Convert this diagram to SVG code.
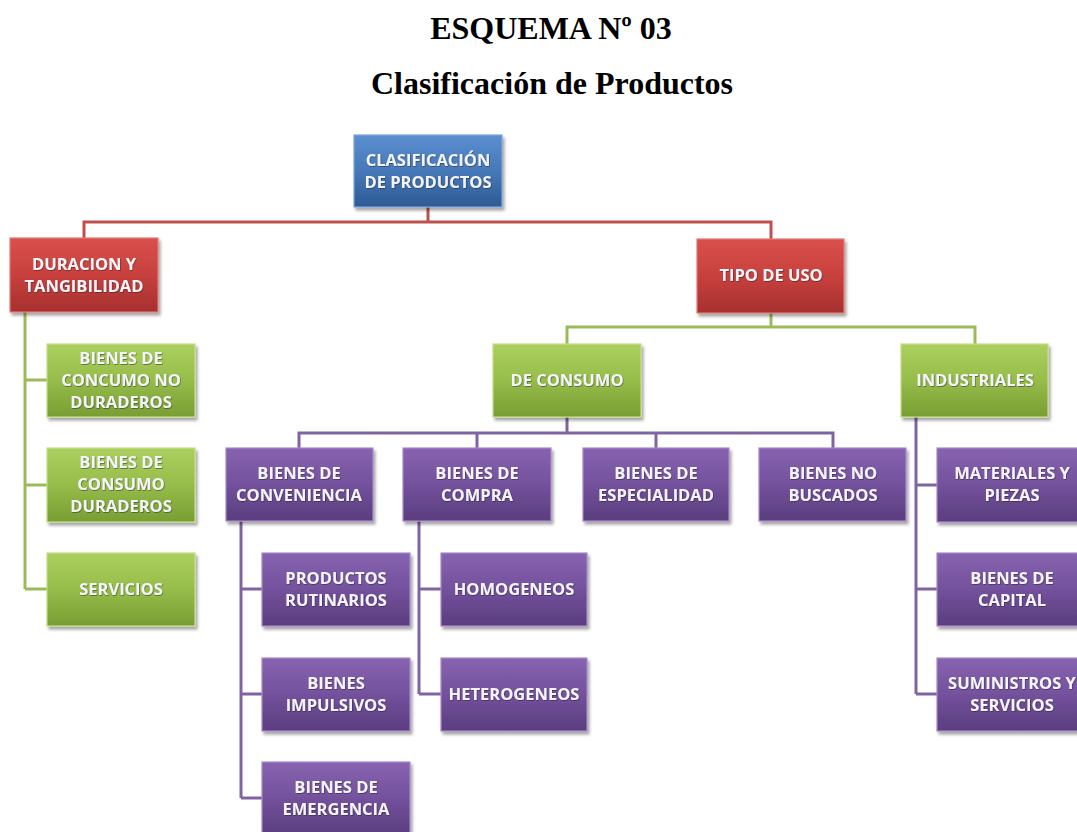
<svg xmlns="http://www.w3.org/2000/svg" width="1077" height="832" viewBox="0 0 1077 832">
  <defs>
    <linearGradient id="gBlue" x1="0" y1="0" x2="0" y2="1">
      <stop offset="0" stop-color="#5b8fd0"/>
      <stop offset="0.5" stop-color="#4678b8"/>
      <stop offset="1" stop-color="#2d5b94"/>
    </linearGradient>
    <linearGradient id="gRed" x1="0" y1="0" x2="0" y2="1">
      <stop offset="0" stop-color="#d9504c"/>
      <stop offset="0.5" stop-color="#c8403d"/>
      <stop offset="1" stop-color="#a6302e"/>
    </linearGradient>
    <linearGradient id="gGreen" x1="0" y1="0" x2="0" y2="1">
      <stop offset="0" stop-color="#acd05e"/>
      <stop offset="0.5" stop-color="#96bc4a"/>
      <stop offset="1" stop-color="#789d33"/>
    </linearGradient>
    <linearGradient id="gPurple" x1="0" y1="0" x2="0" y2="1">
      <stop offset="0" stop-color="#8763b0"/>
      <stop offset="0.5" stop-color="#73519c"/>
      <stop offset="1" stop-color="#5a3d7e"/>
    </linearGradient>
    <filter id="shadow" x="-10%" y="-10%" width="125%" height="130%">
      <feDropShadow dx="2" dy="3" stdDeviation="1.5" flood-color="#000" flood-opacity="0.35"/>
    </filter>
    <filter id="txtShadow" x="-5%" y="-20%" width="110%" height="140%">
      <feDropShadow dx="0.6" dy="0.8" stdDeviation="0.5" flood-color="#1a1a2e" flood-opacity="0.6"/>
    </filter>
  </defs>
  <style>
    .title { font-family: "Liberation Serif", "Times New Roman", serif; font-weight: bold; font-size: 32px; fill: #000; text-anchor: middle; }
    .box { stroke-width: 1.2; filter: url(#shadow); }
    .blue { fill: url(#gBlue); stroke: #7ea6d8; }
    .red { fill: url(#gRed); stroke: #e37a77; }
    .green { fill: url(#gGreen); stroke: #c3de88; }
    .purple { fill: url(#gPurple); stroke: #a68bc8; }
    .lbl { font-family: "Open Sans", "Liberation Sans", sans-serif; font-weight: bold; font-size: 16.5px; fill: #f4f4f8; text-anchor: middle; filter: url(#txtShadow); }
    .conn { fill: none; stroke-width: 3; }
    .cRed { stroke: #c0504d; }
    .cGreen { stroke: #9bbb59; }
    .cPurple { stroke: #8064a2; }
  </style>
  <rect width="1077" height="832" fill="#ffffff"/>

  <text class="title" x="551" y="39">ESQUEMA Nº 03</text>
  <text class="title" x="552" y="94">Clasificación de Productos</text>

  <!-- connectors -->
  <g id="connectors">
    <path class="conn cRed" d="M428,207 V222 M84,240 V222 H771 V239"/>
    <path class="conn cGreen" d="M771,313 V327 M567,344 V327 H975 V344"/>
    <path class="conn cGreen" d="M25,312 V589 M25,380 H47 M25,485 H47 M25,589 H47"/>
    <path class="conn cPurple" d="M567,417 V433 M299,448 V433 H833 V448 M477,433 V448 M656,433 V448"/>
    <path class="conn cPurple" d="M241,521 V798 M241,589 H262 M241,694 H262 M241,798 H262"/>
    <path class="conn cPurple" d="M419,521 V694 M419,589 H441 M419,694 H441"/>
    <path class="conn cPurple" d="M916,417 V694 M916,485 H937 M916,589 H937 M916,694 H937"/>
  </g>

  <!-- root -->
  <g id="clasificacion">
    <rect class="box blue" x="354" y="135" width="148" height="72"/>
    <text class="lbl" x="428" y="166">CLASIFICACIÓN</text>
    <text class="lbl" x="428" y="188">DE PRODUCTOS</text>
  </g>

  <!-- first level -->
  <g id="duracion">
    <rect class="box red" x="10" y="238" width="148" height="74"/>
    <text class="lbl" x="84" y="270">DURACION Y</text>
    <text class="lbl" x="84" y="292">TANGIBILIDAD</text>
  </g>
  <g id="tipo-uso">
    <rect class="box red" x="697" y="239" width="147" height="74"/>
    <text class="lbl" x="771" y="281">TIPO DE USO</text>
  </g>

  <!-- duracion y tangibilidad -->
  <g id="no-duraderos">
    <rect class="box green" x="47" y="344" width="148" height="73"/>
    <text class="lbl" x="121" y="364">BIENES DE</text>
    <text class="lbl" x="121" y="386">CONCUMO NO</text>
    <text class="lbl" x="121" y="408">DURADEROS</text>
  </g>
  <g id="duraderos">
    <rect class="box green" x="47" y="448" width="148" height="74"/>
    <text class="lbl" x="121" y="468">BIENES DE</text>
    <text class="lbl" x="121" y="490">CONSUMO</text>
    <text class="lbl" x="121" y="512">DURADEROS</text>
  </g>
  <g id="servicios">
    <rect class="box green" x="47" y="553" width="148" height="73"/>
    <text class="lbl" x="121" y="595">SERVICIOS</text>
  </g>

  <!-- tipo de uso -->
  <g id="de-consumo">
    <rect class="box green" x="493" y="344" width="148" height="73"/>
    <text class="lbl" x="567" y="386">DE CONSUMO</text>
  </g>
  <g id="industriales">
    <rect class="box green" x="901" y="344" width="147" height="73"/>
    <text class="lbl" x="975" y="386">INDUSTRIALES</text>
  </g>

  <!-- de consumo -->
  <g id="conveniencia">
    <rect class="box purple" x="226" y="448" width="147" height="73"/>
    <text class="lbl" x="299" y="479">BIENES DE</text>
    <text class="lbl" x="299" y="501">CONVENIENCIA</text>
  </g>
  <g id="compra">
    <rect class="box purple" x="403" y="448" width="148" height="73"/>
    <text class="lbl" x="477" y="479">BIENES DE</text>
    <text class="lbl" x="477" y="501">COMPRA</text>
  </g>
  <g id="especialidad">
    <rect class="box purple" x="583" y="448" width="146" height="73"/>
    <text class="lbl" x="656" y="479">BIENES DE</text>
    <text class="lbl" x="656" y="501">ESPECIALIDAD</text>
  </g>
  <g id="no-buscados">
    <rect class="box purple" x="759" y="448" width="147" height="73"/>
    <text class="lbl" x="833" y="479">BIENES NO</text>
    <text class="lbl" x="833" y="501">BUSCADOS</text>
  </g>

  <!-- conveniencia -->
  <g id="rutinarios">
    <rect class="box purple" x="262" y="553" width="148" height="73"/>
    <text class="lbl" x="336" y="584">PRODUCTOS</text>
    <text class="lbl" x="336" y="606">RUTINARIOS</text>
  </g>
  <g id="impulsivos">
    <rect class="box purple" x="262" y="658" width="148" height="73"/>
    <text class="lbl" x="336" y="689">BIENES</text>
    <text class="lbl" x="336" y="711">IMPULSIVOS</text>
  </g>
  <g id="emergencia">
    <rect class="box purple" x="262" y="762" width="148" height="73"/>
    <text class="lbl" x="336" y="793">BIENES DE</text>
    <text class="lbl" x="336" y="815">EMERGENCIA</text>
  </g>

  <!-- compra -->
  <g id="homogeneos">
    <rect class="box purple" x="441" y="553" width="146" height="73"/>
    <text class="lbl" x="514" y="595">HOMOGENEOS</text>
  </g>
  <g id="heterogeneos">
    <rect class="box purple" x="441" y="658" width="146" height="73"/>
    <text class="lbl" x="514" y="700">HETEROGENEOS</text>
  </g>

  <!-- industriales -->
  <g id="materiales">
    <rect class="box purple" x="937" y="448" width="148" height="74"/>
    <text class="lbl" x="1012" y="479">MATERIALES Y</text>
    <text class="lbl" x="1012" y="501">PIEZAS</text>
  </g>
  <g id="capital">
    <rect class="box purple" x="937" y="553" width="148" height="73"/>
    <text class="lbl" x="1012" y="584">BIENES DE</text>
    <text class="lbl" x="1012" y="606">CAPITAL</text>
  </g>
  <g id="suministros">
    <rect class="box purple" x="937" y="658" width="148" height="73"/>
    <text class="lbl" x="1012" y="689">SUMINISTROS Y</text>
    <text class="lbl" x="1012" y="711">SERVICIOS</text>
  </g>
</svg>
